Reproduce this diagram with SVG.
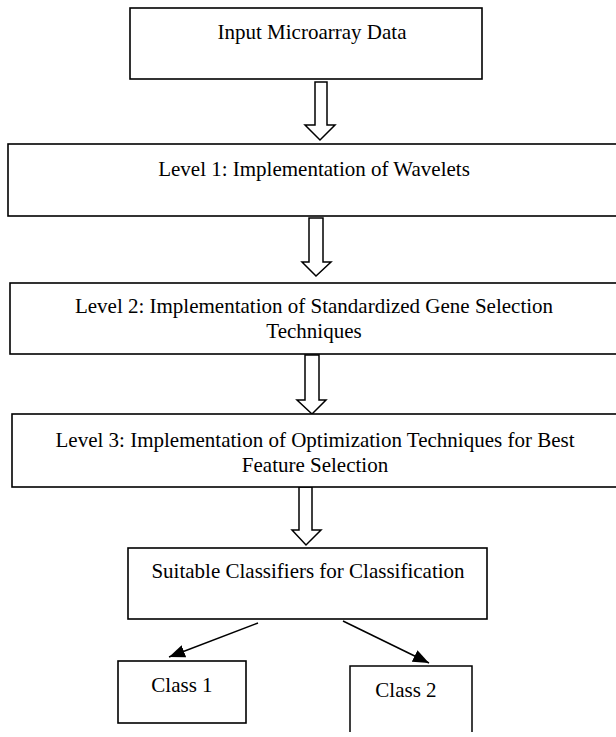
<svg xmlns="http://www.w3.org/2000/svg" width="616" height="737" viewBox="0 0 616 737">
<style>
.box{fill:#fff;stroke:#000;stroke-width:1.6}
.blk{fill:#fff;stroke:#000;stroke-width:1.5;stroke-linejoin:miter}
.ln{stroke:#000;stroke-width:1.5;fill:none}
text{font-family:"Liberation Serif","Times New Roman",serif;font-size:21px;fill:#000;text-anchor:middle}
</style>
<defs>
<marker id="ah" viewBox="0 0 10 10" refX="10" refY="5" markerWidth="16" markerHeight="13" markerUnits="userSpaceOnUse" orient="auto" preserveAspectRatio="none">
<path d="M0,0 L10,5 L0,10 Z" fill="#000"/>
</marker>
</defs>
<rect width="616" height="737" fill="#fff"/>
<g id="connectors">
<polygon class="blk" points="315,82 327,82 327,125 335,125 320,140 305,125 315,125"/>
<polygon class="blk" points="309,218 323,218 323,262 331,262 316,276 302,262 309,262"/>
<polygon class="blk" points="305,355 319,355 319,400 326,400 312,414 297,400 305,400"/>
<polygon class="blk" points="299,487 312,487 312,530 321,530 306,545 292,530 299,530"/>
<line class="ln" x1="258" y1="623" x2="169" y2="657" marker-end="url(#ah)"/>
<line class="ln" x1="343" y1="621" x2="429" y2="663" marker-end="url(#ah)"/>
</g>
<g id="n1">
<rect class="box" x="130" y="8" width="352" height="71"/>
<text x="312" y="39">Input Microarray Data</text>
</g>
<g id="n2">
<rect class="box" x="8" y="144" width="620" height="72"/>
<text x="314" y="176">Level 1: Implementation of Wavelets</text>
</g>
<g id="n3">
<rect class="box" x="10" y="283" width="620" height="71"/>
<text x="314" y="313">Level 2: Implementation of Standardized Gene Selection</text>
<text x="314" y="338">Techniques</text>
</g>
<g id="n4">
<rect class="box" x="12" y="414" width="620" height="73"/>
<text x="315" y="447">Level 3: Implementation of Optimization Techniques for Best</text>
<text x="315" y="472">Feature Selection</text>
</g>
<g id="n5">
<rect class="box" x="128" y="548" width="359" height="71"/>
<text x="308" y="578">Suitable Classifiers for Classification</text>
</g>
<g id="n6">
<rect class="box" x="118" y="661" width="128" height="62"/>
<text x="182" y="692">Class 1</text>
</g>
<g id="n7">
<path class="ln" d="M350,732 L350,666 L472,666 L472,732" stroke-width="1.6"/>
<text x="406" y="697">Class 2</text>
</g>
</svg>
